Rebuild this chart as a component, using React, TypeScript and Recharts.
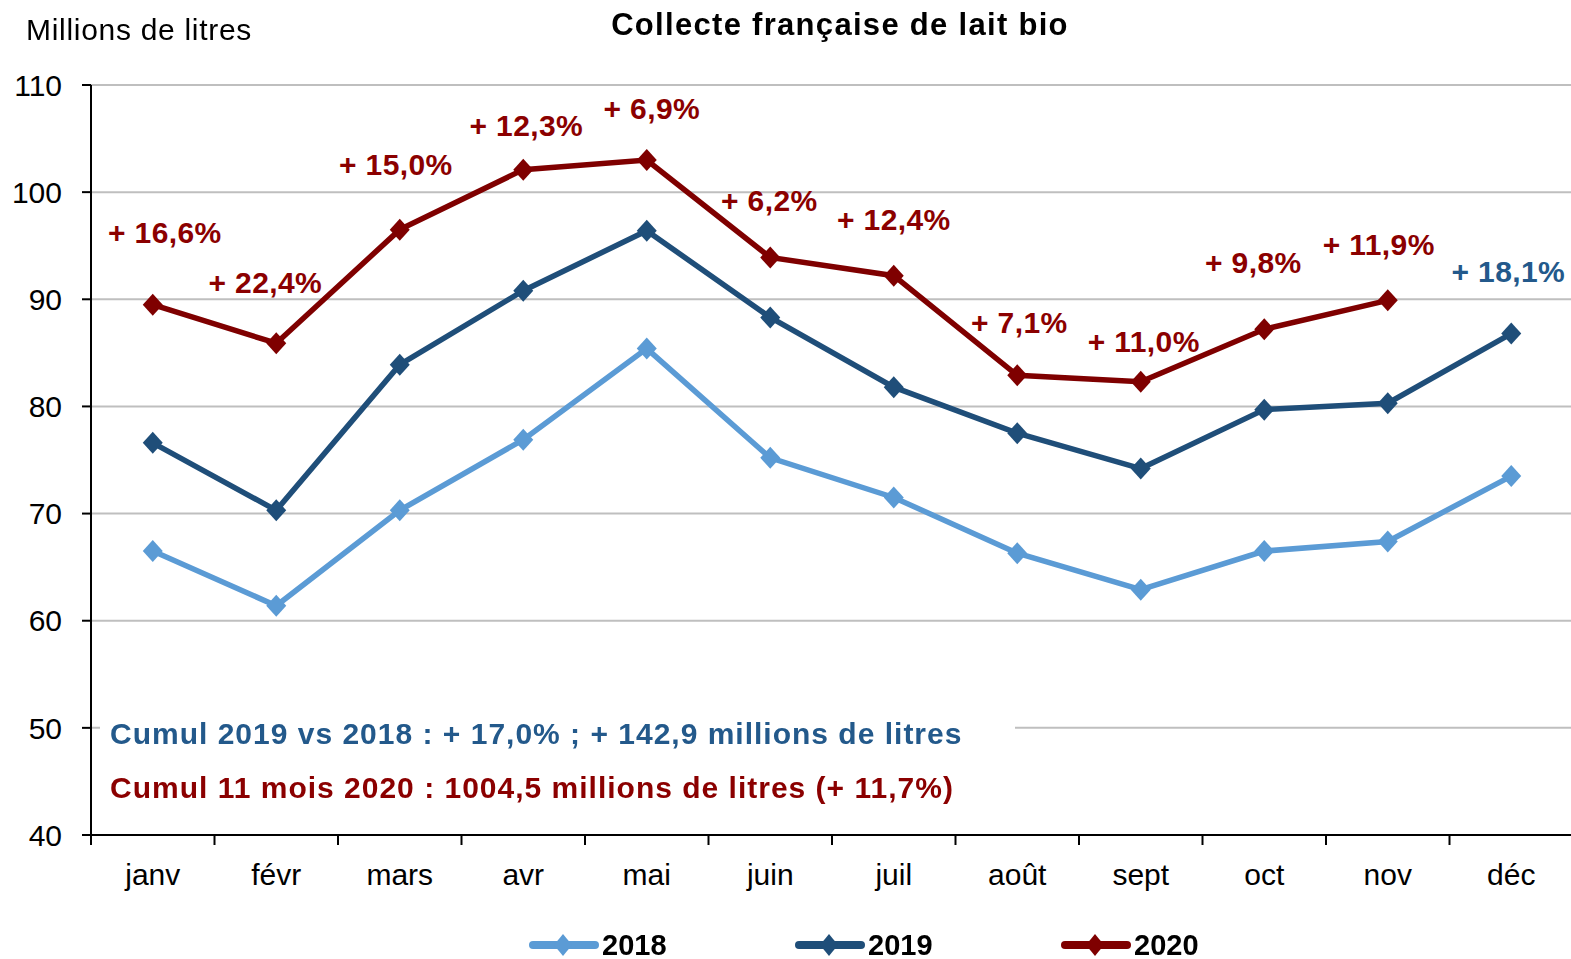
import React from 'react';
import { LineChart, Line, XAxis, YAxis, CartesianGrid, Legend, LabelList } from 'recharts';

const months = ['janv', 'févr', 'mars', 'avr', 'mai', 'juin', 'juil', 'août', 'sept', 'oct', 'nov', 'déc'];
const v2018 = [66.5, 61.4, 70.3, 76.9, 85.4, 75.2, 71.5, 66.3, 62.9, 66.5, 67.4, 73.5];
const v2019 = [76.6, 70.3, 83.9, 90.8, 96.4, 88.3, 81.8, 77.5, 74.2, 79.7, 80.3, 86.8];
const v2020 = [89.5, 85.9, 96.5, 102.1, 103.0, 93.9, 92.2, 82.9, 82.3, 87.2, 89.9, null];
const labels2020 = ['+ 16,6%', '+ 22,4%', '+ 15,0%', '+ 12,3%', '+ 6,9%', '+ 6,2%', '+ 12,4%', '+ 7,1%', '+ 11,0%', '+ 9,8%', '+ 11,9%', ''];
const labels2019 = ['', '', '', '', '', '', '', '', '', '', '', '+ 18,1%'];
const yTicks = [40, 50, 60, 70, 80, 90, 100, 110];
const title = 'Collecte française de lait bio';
const yTitle = 'Millions de litres';
const cumul2019 = 'Cumul 2019 vs 2018 : + 17,0% ; + 142,9 millions de litres';
const cumul2020 = 'Cumul 11 mois 2020 : 1004,5 millions de litres (+ 11,7%)';

// layout-only offsets for the percentage labels (dx, dy from the point)
const offsets2020 = [[12, -72], [-11, -61], [-4, -65], [3, -44], [5, -52], [-1, -57], [0, -56], [2, -53], [3, -40], [-11, -67], [-9, -56], [0, 0]];
const offsets2019 = [[0, 0], [0, 0], [0, 0], [0, 0], [0, 0], [0, 0], [0, 0], [0, 0], [0, 0], [0, 0], [0, 0], [-3, -62]];

const data = months.map((m, i) => ({
  x: i,
  month: m,
  y2018: v2018[i],
  y2019: v2019[i],
  y2020: v2020[i],
}));

const xTicks = Array.from({ length: 25 }, (_, i) => i / 2 - 0.5);

const C2018 = '#5B9BD5';
const C2019 = '#1F4E79';
const C2020 = '#7F0000';
const TXT_RED = '#8B0000';
const TXT_BLUE = '#23598B';
const FONT = '"Liberation Sans", Arial, sans-serif';

const makeDot = (color: string) => (props: any) => {
  const { cx, cy, index } = props;
  if (cx == null || cy == null || props.value == null) return <g key={`d-${color}-${index}`} />;
  return (
    <polygon
      key={`d-${color}-${index}`}
      points={`${cx},${cy - 11} ${cx + 10},${cy} ${cx},${cy + 11} ${cx - 10},${cy}`}
      fill={color}
    />
  );
};

const makeLabel = (texts: string[], offs: number[][], color: string) => (props: any) => {
  const { x, y, index } = props;
  const t = texts[index];
  if (!t || x == null || y == null) return null;
  const [dx, dy] = offs[index];
  return (
    <text
      key={`l-${color}-${index}`}
      x={x + dx}
      y={y + dy}
      textAnchor="middle"
      dominantBaseline="central"
      fontFamily={FONT}
      fontWeight="bold"
      fontSize={30}
      letterSpacing={0.4}
      fill={color}
    >
      {t}
    </text>
  );
};

const XTick = (props: any) => {
  const { x, y, payload } = props;
  const v = payload.value;
  if (Number.isInteger(v)) {
    return (
      <text x={x} y={y + 50} textAnchor="middle" fontFamily={FONT} fontSize={30} fill="#000">
        {months[v]}
      </text>
    );
  }
  return <line x1={x} x2={x} y1={y} y2={y + 10} stroke="#000" strokeWidth={2} />;
};

const LegendContent = (props: any) => {
  const { payload } = props;
  return (
    <svg width={1571} height={40} style={{ display: 'block' }}>
      {(payload || []).map((p: any, i: number) => {
        const x0 = 529 + i * 266;
        return (
          <g key={p.value}>
            <line x1={x0 + 4} x2={x0 + 66} y1={23} y2={23} stroke={p.color} strokeWidth={8} strokeLinecap="round" />
            <polygon points={`${x0 + 34},${12} ${x0 + 43},${23} ${x0 + 34},${34} ${x0 + 25},${23}`} fill={p.color} />
            <text x={x0 + 73} y={33} fontFamily={FONT} fontWeight="bold" fontSize={29} fill="#000">
              {p.value}
            </text>
          </g>
        );
      })}
    </svg>
  );
};

export default function App() {
  return (
    <div style={{ position: 'fixed', left: 0, top: 0, width: 1571, height: 959, background: '#fff' }}>
      <LineChart width={1571} height={959} data={data} margin={{ top: 85, right: -2, bottom: 123, left: 0 }}>
        <CartesianGrid vertical={false} stroke="#BFBFBF" strokeWidth={2} />
        <XAxis
          dataKey="x"
          type="number"
          domain={[-0.5, 11.5]}
          ticks={xTicks}
          interval={0}
          height={1}
          tickSize={0}
          tickMargin={0}
          tickLine={false}
          tick={<XTick />}
          axisLine={{ stroke: '#000', strokeWidth: 2 }}
        />
        <YAxis
          domain={[40, 110]}
          ticks={yTicks}
          interval={0}
          width={91}
          tickSize={9}
          tickMargin={20}
          tick={{ fontSize: 30, fill: '#000', fontFamily: FONT }}
          tickLine={{ stroke: '#000', strokeWidth: 2 }}
          axisLine={{ stroke: '#000', strokeWidth: 2 }}
        />
        <Legend
          verticalAlign="middle"
          align="center"
          layout="horizontal"
          content={<LegendContent />}
          wrapperStyle={{ top: 922, left: 0, width: 1571 }}
        />
        <Line
          dataKey="y2018"
          name="2018"
          stroke={C2018}
          strokeWidth={5.5}
          dot={makeDot(C2018)}
          activeDot={false}
          isAnimationActive={false}
        />
        <Line
          dataKey="y2019"
          name="2019"
          stroke={C2019}
          strokeWidth={5.5}
          dot={makeDot(C2019)}
          activeDot={false}
          isAnimationActive={false}
        >
          <LabelList dataKey="y2019" content={makeLabel(labels2019, offsets2019, TXT_BLUE)} />
        </Line>
        <Line
          dataKey="y2020"
          name="2020"
          stroke={C2020}
          strokeWidth={5.5}
          dot={makeDot(C2020)}
          activeDot={false}
          isAnimationActive={false}
        >
          <LabelList dataKey="y2020" content={makeLabel(labels2020, offsets2020, TXT_RED)} />
        </Line>
      </LineChart>
      <svg
        width={1571}
        height={959}
        style={{ position: 'absolute', left: 0, top: 0, pointerEvents: 'none' }}
      >
        <text x={840} y={35} textAnchor="middle" fontFamily={FONT} fontWeight="bold" fontSize={31} letterSpacing={1.3} fill="#000">
          {title}
        </text>
        <text x={26} y={40} fontFamily={FONT} fontSize={30} letterSpacing={0.7} fill="#000">
          {yTitle}
        </text>
        <rect x={100} y={712} width={915} height={32} fill="#fff" />
        <text x={110} y={744} fontFamily={FONT} fontWeight="bold" fontSize={30} letterSpacing={1} fill={TXT_BLUE}>
          {cumul2019}
        </text>
        <text x={110} y={798} fontFamily={FONT} fontWeight="bold" fontSize={30} letterSpacing={1} fill={TXT_RED}>
          {cumul2020}
        </text>
      </svg>
    </div>
  );
}
